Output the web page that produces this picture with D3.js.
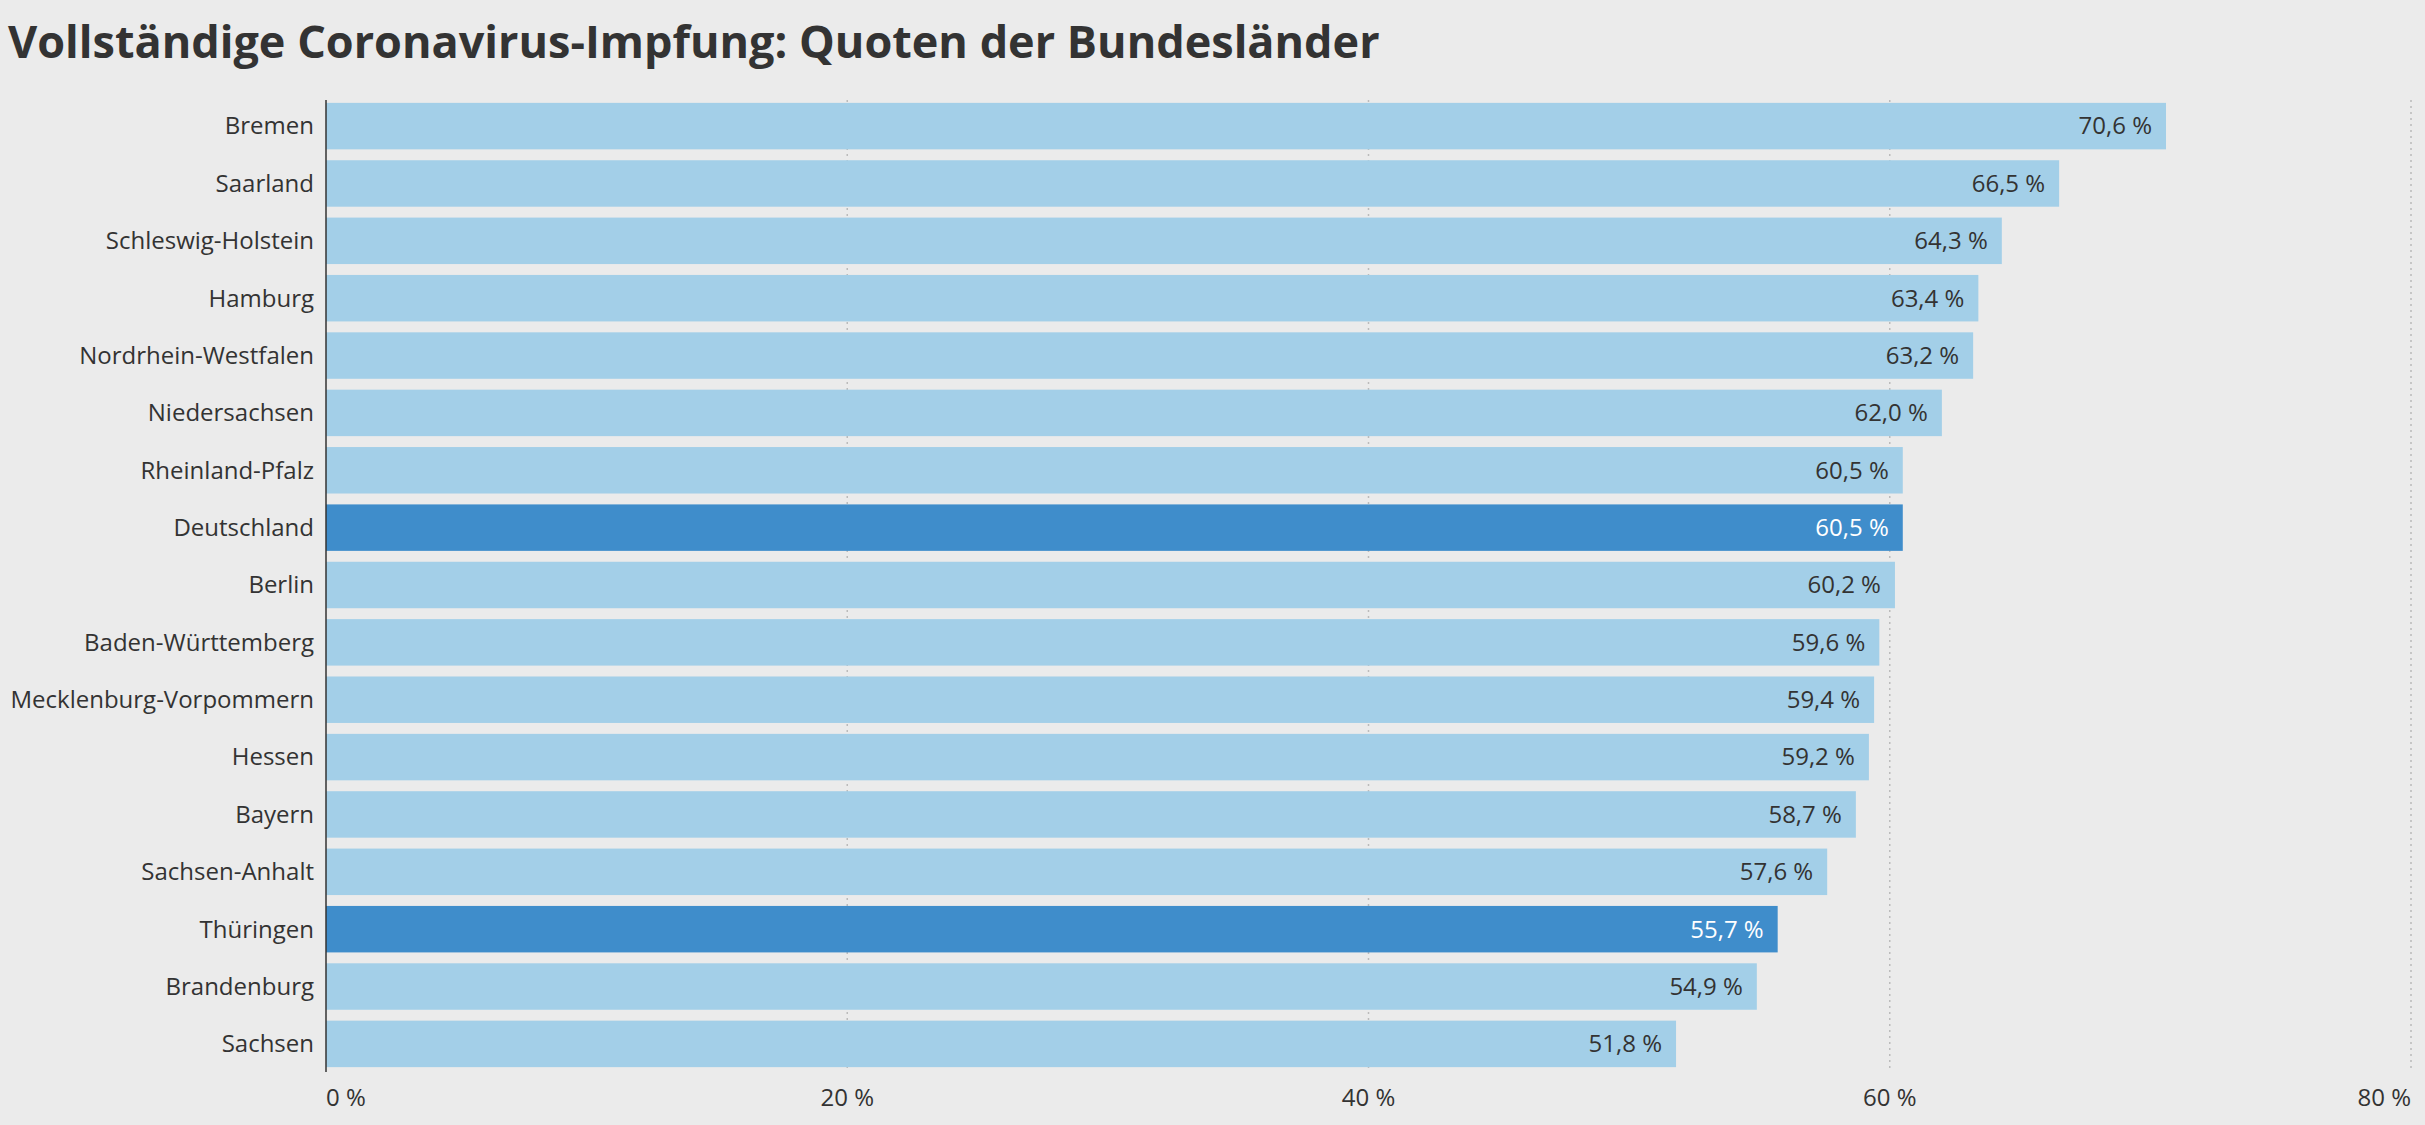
<!DOCTYPE html>
<html><head><meta charset="utf-8">
<script src="https://cdn.jsdelivr.net/npm/d3@7"></script>
<style>
body{margin:0;background:#ebebeb;font-family:"Open Sans",sans-serif;}
</style></head><body>
<script>
var laender = ["Bremen","Saarland","Schleswig-Holstein","Hamburg","Nordrhein-Westfalen","Niedersachsen","Rheinland-Pfalz","Deutschland","Berlin","Baden-Württemberg","Mecklenburg-Vorpommern","Hessen","Bayern","Sachsen-Anhalt","Thüringen","Brandenburg","Sachsen"];
var quoten = [70.6,66.5,64.3,63.4,63.2,62.0,60.5,60.5,60.2,59.6,59.4,59.2,58.7,57.6,55.7,54.9,51.8];
var hervorgehoben = ["Deutschland","Thüringen"];
var xTicks = [0,20,40,60,80];

var W = 2425, H = 1125;
var margin = {top: 100, right: 14, bottom: 55, left: 326};

var svg = d3.select('body').append('svg').attr('width', W).attr('height', H);
svg.append('rect').attr('width', W).attr('height', H).attr('fill', '#ebebeb');

svg.append('text').attr('x', 8).attr('y', 58)
  .attr('font-size', 45).attr('font-weight', 700).attr('fill', '#333')
  .text('Vollständige Coronavirus-Impfung: Quoten der Bundesländer');

var x = d3.scaleLinear().domain([0,80]).range([margin.left, W - margin.right]);
var y = d3.scaleBand().domain(laender).range([margin.top, H - margin.bottom]).paddingInner(0.19).paddingOuter(0.05);

var fmt = function(v){ return d3.format('.1f')(v).replace('.', ',') + ' %'; };

// Gitterlinien
svg.selectAll('.grid').data(xTicks.slice(1)).join('line')
  .attr('x1', d => x(d)).attr('x2', d => x(d))
  .attr('y1', margin.top).attr('y2', H - margin.bottom)
  .attr('stroke', '#bbb').attr('stroke-width', 1.5).attr('stroke-dasharray', '2,4');

svg.selectAll('.bar').data(quoten).join('rect')
  .attr('x', x(0)).attr('y', (d,i) => y(laender[i]))
  .attr('width', d => x(d) - x(0)).attr('height', y.bandwidth())
  .attr('fill', (d,i) => hervorgehoben.includes(laender[i]) ? '#3f8dcb' : '#a3cfe8');

svg.selectAll('.val').data(quoten).join('text')
  .attr('x', d => x(d) - 14).attr('y', (d,i) => y(laender[i]) + y.bandwidth()/2)
  .attr('dy', '0.35em').attr('text-anchor', 'end').attr('font-size', 24)
  .attr('fill', (d,i) => hervorgehoben.includes(laender[i]) ? '#fff' : '#333')
  .text(d => fmt(d));

svg.selectAll('.lab').data(laender).join('text')
  .attr('x', margin.left - 12).attr('y', d => y(d) + y.bandwidth()/2)
  .attr('dy', '0.35em').attr('text-anchor', 'end').attr('font-size', 24).attr('fill', '#333')
  .text(d => d);

svg.append('line').attr('x1', x(0)).attr('x2', x(0))
  .attr('y1', margin.top).attr('y2', H - margin.bottom + 2)
  .attr('stroke', '#333').attr('stroke-width', 1.5);

svg.selectAll('.tick').data(xTicks).join('text')
  .attr('x', d => x(d)).attr('y', 1106)
  .attr('text-anchor', d => d === 0 ? 'start' : (d === 80 ? 'end' : 'middle'))
  .attr('font-size', 24).attr('fill', '#333')
  .text(d => d + ' %');
</script>
</body></html>
